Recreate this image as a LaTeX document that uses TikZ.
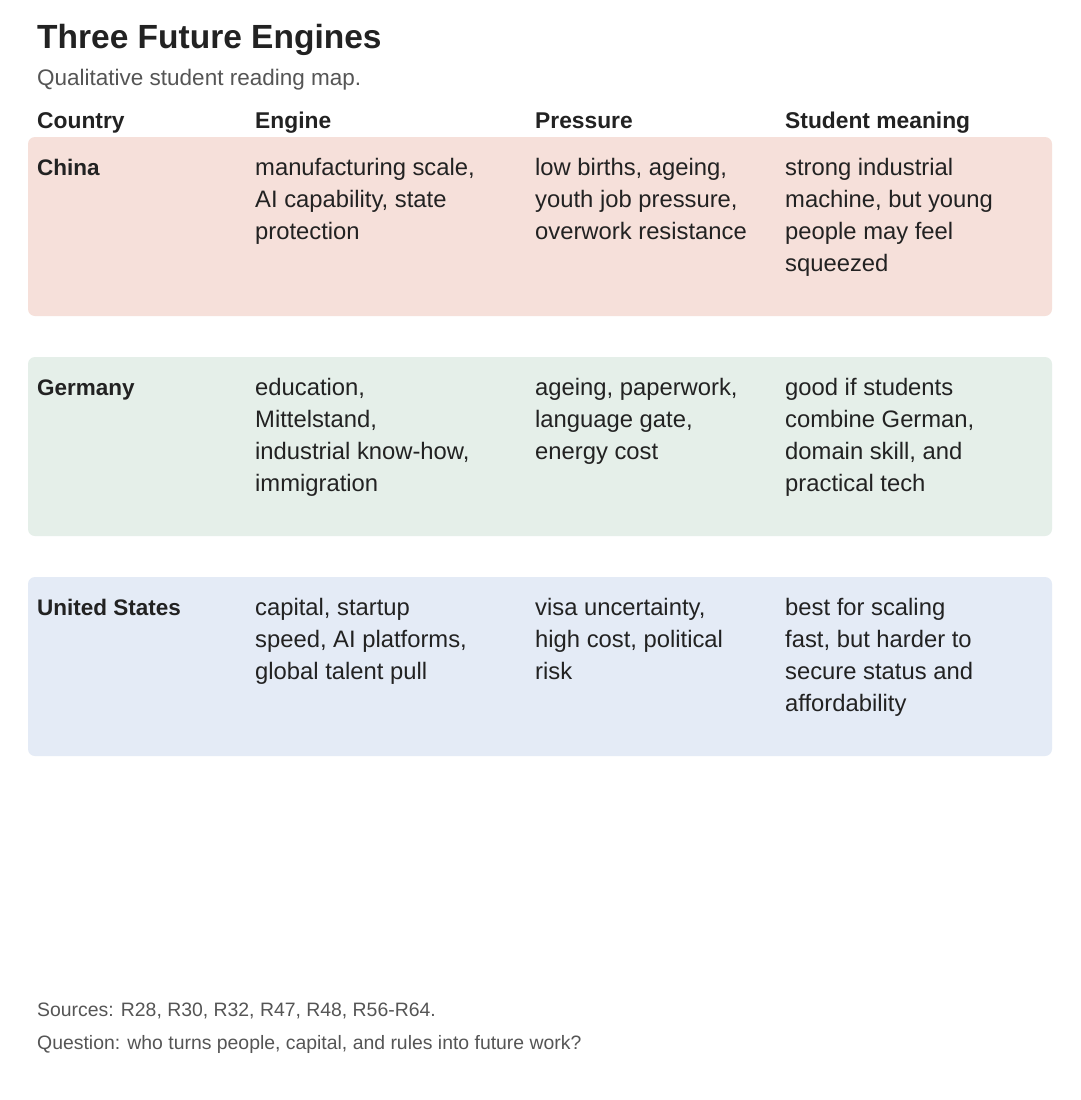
\documentclass[tikz,border=0pt]{standalone}
\usepackage{fontspec}
\setmainfont{Liberation Sans}
\definecolor{ink}{HTML}{222222}
\definecolor{sub}{HTML}{555555}
\definecolor{cn}{HTML}{F6E0DA}
\definecolor{de}{HTML}{E5EFE9}
\definecolor{us}{HTML}{E4EBF6}
\begin{document}
\begin{tikzpicture}[x=1pt,y=-1pt,
  row/.style={rounded corners=7pt,draw=none},
  cell/.style={anchor=north west,inner sep=0pt,align=left,text=ink,font=\fontsize{23.8}{32}\selectfont},
  cty/.style={cell,font=\bfseries\fontsize{22.5}{32}\selectfont},
  hdr/.style={anchor=base west,inner sep=0pt,text=ink,font=\bfseries\fontsize{22.8}{24}\selectfont},
  foot/.style={anchor=base west,inner sep=0pt,text=sub,font=\fontsize{19.4}{20}\selectfont}]
\useasboundingbox[fill=white] (0,0) rectangle (1080,1100);
\node[anchor=base west,inner sep=0pt,text=ink,font=\bfseries\fontsize{33.5}{36}\selectfont] (title) at (37,48) {Three Future Engines};
\node[anchor=base west,inner sep=0pt,text=sub,font=\fontsize{22.5}{24}\selectfont] (subtitle) at (37,85) {Qualitative student reading map.};
\node[hdr] (h1) at (37,128) {Country};
\node[hdr] (h2) at (255,128) {Engine};
\node[hdr] (h3) at (535,128) {Pressure};
\node[hdr] (h4) at (785,128) {Student meaning};
\fill[row,cn] (28,137) rectangle (1052,316);
\fill[row,de] (28,357) rectangle (1052,536);
\fill[row,us] (28,577) rectangle (1052,756);
\node[cty] (c1) at (37,153) {\strut China};
\node[cell] (c1e) at (255,153) {\strut manufacturing scale,\\AI capability, state\\protection};
\node[cell] (c1p) at (535,153) {\strut low births, ageing,\\youth job pressure,\\overwork resistance};
\node[cell] (c1m) at (785,153) {\strut strong industrial\\machine, but young\\people may feel\\squeezed};
\node[cty] (c2) at (37,373) {\strut Germany};
\node[cell] (c2e) at (255,373) {\strut education,\\Mittelstand,\\industrial know-how,\\immigration};
\node[cell] (c2p) at (535,373) {\strut ageing, paperwork,\\language gate,\\energy cost};
\node[cell] (c2m) at (785,373) {\strut good if students\\combine German,\\domain skill, and\\practical tech};
\node[cty] (c3) at (37,593) {\strut United States};
\node[cell] (c3e) at (255,593) {\strut capital, startup\\speed, AI platforms,\\global talent pull};
\node[cell] (c3p) at (535,593) {\strut visa uncertainty,\\high cost, political\\risk};
\node[cell] (c3m) at (785,593) {\strut best for scaling\\fast, but harder to\\secure status and\\affordability};
\node[foot] (f1) at (37,1016) {Sources: R28, R30, R32, R47, R48, R56-R64.};
\node[foot] (f2) at (37,1049) {Question: who turns people, capital, and rules into future work?};
\end{tikzpicture}
\end{document}
